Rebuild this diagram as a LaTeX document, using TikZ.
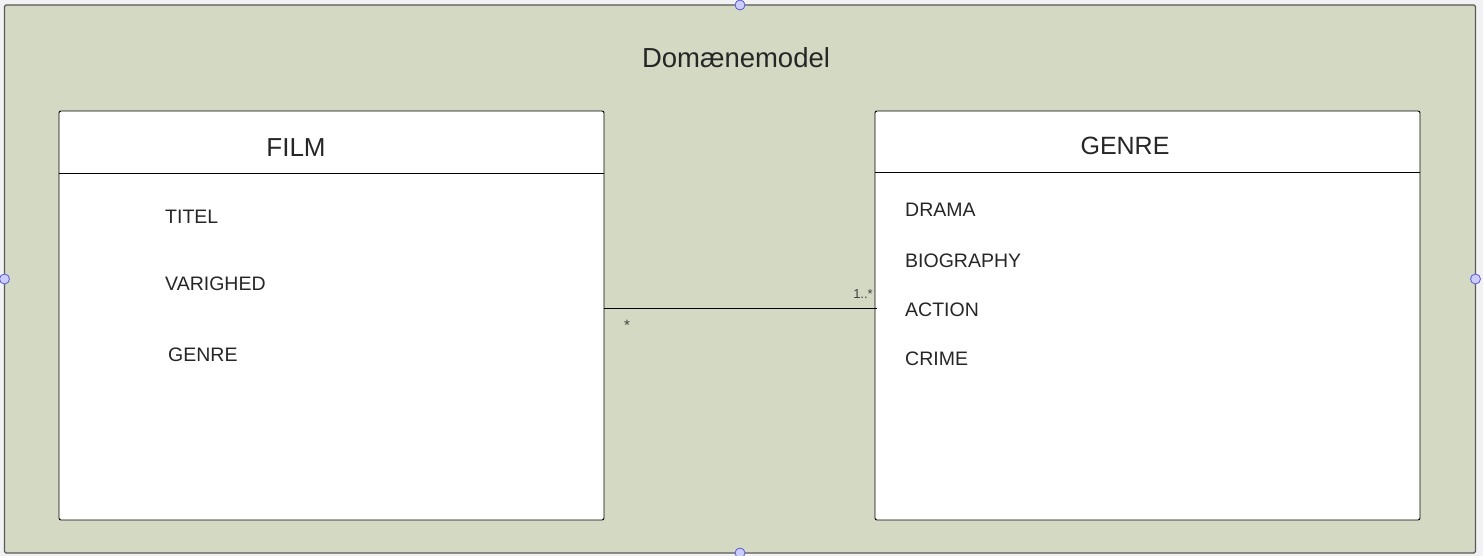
\documentclass[tikz,border=0pt]{standalone}
\usepackage{fontspec}
\setmainfont{Liberation Sans}
\definecolor{pagebg}{HTML}{F2F2F5}
\definecolor{framefill}{HTML}{D4D9C3}
\definecolor{framedraw}{HTML}{5A5A5A}
\definecolor{txt}{HTML}{262626}
\definecolor{handlefill}{HTML}{CCCCFF}
\definecolor{handledraw}{HTML}{5A5AD8}
\tikzset{
  classbox/.style={draw=black, line width=0.9pt, fill=white, rounded corners=2pt,
    minimum width=545pt, minimum height=409pt, inner sep=0pt},
  item/.style={anchor=base west, inner sep=0pt, text=txt, font=\fontsize{19.5}{22}\selectfont},
  title/.style={anchor=base, inner sep=0pt, text=txt},
  mult/.style={anchor=base, inner sep=0pt, text=black!75, font=\fontsize{13}{15}\selectfont},
  handle/.style={circle, draw=handledraw, fill=handlefill, line width=0.8pt, minimum size=10pt, inner sep=0pt}
}
\begin{document}
\begin{tikzpicture}[x=1pt,y=-1pt]
\useasboundingbox (0,0) rectangle (1483,556);
\fill[pagebg] (0,0) rectangle (1483,556);
\node[draw=framedraw, fill=framefill, line width=1.2pt, rounded corners=1.5pt,
  minimum width=1471pt, minimum height=548pt, inner sep=0pt] (frame) at (740,279) {};
\node[title, font=\fontsize{27.5}{32}\selectfont] (dm) at (736,68) {Domænemodel};

\node[classbox] (film) at (331.5,315.5) {};
\node[classbox] (genre) at (1147.5,315.5) {};

\coordinate (fhl) at (59,173);
\coordinate (fhr) at (604,173);
\draw[line width=0.9pt] (film.west |- fhl) -- (film.east |- fhr);
\coordinate (ghl) at (875,172);
\draw[line width=0.9pt] (genre.west |- ghl) -- (genre.east |- ghl);

\node[title, font=\fontsize{26}{30}\selectfont] (filmt) at (296,157) {FILM};
\node[title, font=\fontsize{25}{30}\selectfont] (genret) at (1125,155) {GENRE};

\node[item] (titel) at (165,224) {TITEL};
\node[item] (varighed) at (165,290) {VARIGHED};
\node[item] (fgenre) at (168,361) {GENRE};

\node[item] (drama) at (905,217) {DRAMA};
\node[item] (bio) at (905,267) {BIOGRAPHY};
\node[item] (action) at (905,316) {ACTION};
\node[item] (crime) at (905,365) {CRIME};

\coordinate (assoc) at (700,308);
\coordinate (assocend) at (877,308);
\draw[line width=0.9pt] (film.east |- assoc) -- (assocend);
\node[mult] (m1) at (863,298) {1..*};
\node[mult, font=\fontsize{15}{17}\selectfont] (m2) at (627,330) {*};

\node[handle] (h1) at (740,5) {};
\node[handle] (h2) at (4.5,279) {};
\node[handle] (h3) at (1475.5,279) {};
\node[handle] (h4) at (740,553) {};
\end{tikzpicture}
\end{document}
